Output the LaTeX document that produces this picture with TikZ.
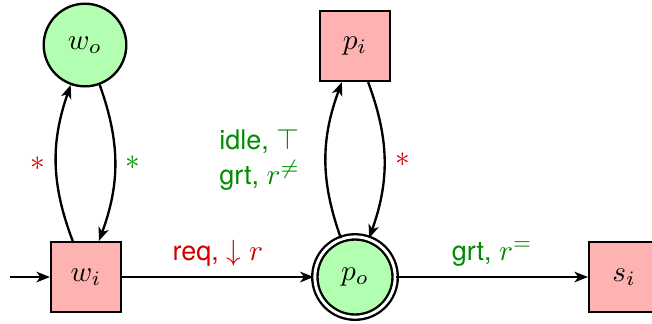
\documentclass[tikz,border=0pt]{standalone}
\usepackage{fontspec}
\setsansfont[Scale=0.92]{TeX Gyre Heros}
\usetikzlibrary{arrows.meta}
\definecolor{lblred}{RGB}{210,0,0}
\definecolor{lblgreen}{RGB}{0,140,0}
\begin{document}
\begin{tikzpicture}[x=0.3413pt,y=-0.3413pt,
  line width=0.8pt,
  >={Stealth[length=4.6pt,width=3.6pt,inset=1.3pt]},
  boxstate/.style={draw,fill=red!30,rectangle,minimum size=23.8pt,inner sep=0pt},
  roundstate/.style={draw,fill=green!30,circle,minimum size=28.2pt,inner sep=0pt},
  accstate/.style={draw,fill=green!30,circle,double,double distance=1pt,minimum size=27.4pt,inner sep=0pt},
  redlbl/.style={text=lblred,font=\sffamily},
  greenlbl/.style={text=lblgreen,font=\sffamily}]
\useasboundingbox (0,0) rectangle (652,323);
\clip (0,0) rectangle (652,323);
\node[roundstate] (wo) at (85,45) {$w_o$};
\node[boxstate] (wi) at (86,277) {$w_i$};
\node[boxstate] (pi) at (355,46) {$p_i$};
\node[accstate] (po) at (355,277) {$p_o$};
\node[boxstate] (si) at (624,277) {$s_i$};
\coordinate (start) at (10,277);
\draw[->] (start) -- (wi);
\draw[->] (wi) to[bend left=20] node[midway,left,redlbl] {$*$} (wo);
\draw[->] (wo) to[bend left=20] node[midway,right,greenlbl] {$*$} (wi);
\draw[->] (wi) -- node[midway,above,redlbl] {req, $\downarrow r$} (po);
\draw[->] (po) to[bend left=20] node[midway,left=5pt,greenlbl,align=left] {idle, $\top$\\grt, $r^{\neq}$} (pi);
\draw[->] (pi) to[bend left=20] node[midway,right,redlbl] {$*$} (po);
\draw[->] (po) -- node[midway,above,greenlbl] {grt, $r^{=}$} (si);
\end{tikzpicture}
\end{document}
